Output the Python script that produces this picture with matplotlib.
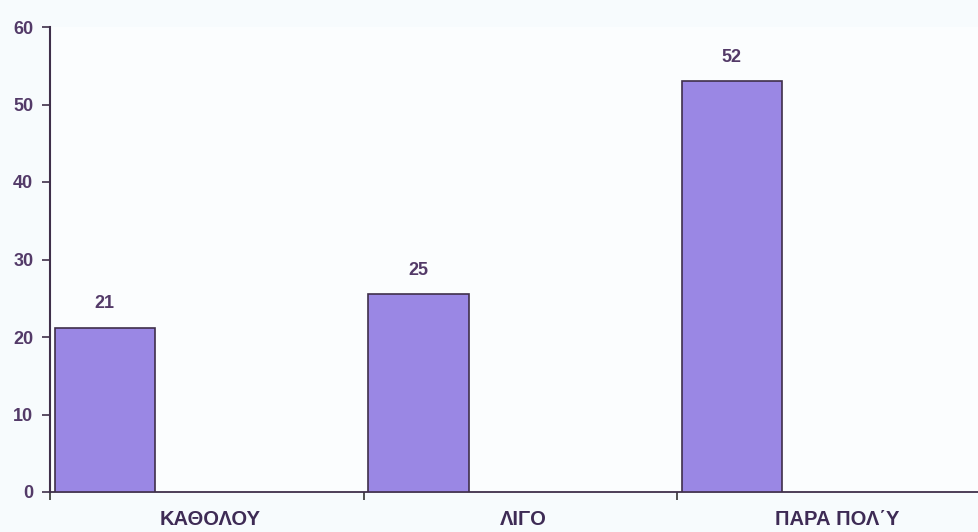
import matplotlib
matplotlib.use("Agg")
import matplotlib.pyplot as plt
import numpy as np

categories = ["ΚΑΘΟΛΟΥ", "ΛΙΓΟ", "ΠΑΡΑ ΠΟΛ΄Υ"]
heights = [21.2, 25.5, 53.0]
value_labels = ["21", "25", "52"]
yticks = [0, 10, 20, 30, 40, 50, 60]

plt.rcParams['font.family'] = ['Liberation Sans', 'DejaVu Sans']
txt = "#533a68"
fig = plt.figure(figsize=(9.79, 5.32), dpi=100)
fig.patch.set_facecolor("#f7fbfd")
ax = fig.add_axes([50/979, 1-492/532, 1-50/979, (492-27)/532])
ax.set_facecolor("#fbfdfe")

x = np.arange(len(categories))
bw = 0.32
left = x - 0.5 + 0.015
ax.bar(left, heights, width=bw, align="edge", color="#9a87e4",
       edgecolor="#3f2f4a", linewidth=1.2, zorder=3)
for xi, h, lab in zip(left + bw/2, heights, value_labels):
    ax.text(xi, h + 2.0, lab, ha="center", va="bottom", fontsize=13,
            fontweight="bold", color=txt)

ax.set_xlim(-0.5, -0.5 + (979-50)/313.5)
ax.set_ylim(0, 60)
ax.set_yticks(yticks)
ax.set_yticklabels([str(t) for t in yticks], fontsize=13, fontweight="bold", color=txt)
ax.set_xticks(x + 0.01)
ax.set_xticklabels(categories, fontsize=14.5, fontweight="bold", color="#3e2b55")
ax.tick_params(axis="x", length=0, pad=13)
ax.set_xticks(np.arange(len(categories)) - 0.5, minor=True)
ax.tick_params(axis="x", which="minor", length=6, width=1.2, color="#333333", direction="out")
ax.tick_params(axis="y", length=6, width=1.2, color="#3f2f4a", pad=6)
for s in ["top", "right"]:
    ax.spines[s].set_visible(False)
ax.spines["left"].set_color("#3f2f4a")
ax.spines["left"].set_linewidth(1.5)
ax.spines["bottom"].set_color("#3f2f4a")
ax.spines["bottom"].set_linewidth(1.3)

fig.savefig("out.png", dpi=100, facecolor=fig.get_facecolor())
